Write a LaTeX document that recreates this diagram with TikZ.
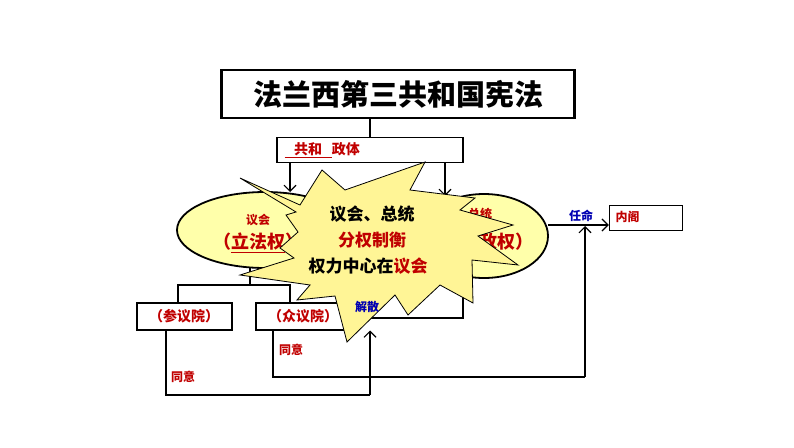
\documentclass[tikz,border=0pt]{standalone}
\usepackage{fontspec}
\setmainfont{Noto Sans CJK SC}
\usetikzlibrary{arrows.meta}
\definecolor{darkred}{RGB}{192,0,0}
\definecolor{lightyellow}{RGB}{255,255,170}
\definecolor{starfill}{RGB}{255,245,150}
\tikzset{
  box/.style={draw, line width=2pt, inner sep=0pt},
  redtext/.style={text=darkred, font=\bfseries},
  bluetext/.style={text=blue!70!black, font=\bfseries\fontsize{12}{14}\selectfont},
  conn/.style={draw, line width=1.1pt},
  arr/.style={conn, -{Straight Barb[length=6pt]}}
}
\begin{document}
\begin{tikzpicture}[x=1pt,y=-1pt]
            \useasboundingbox (0,0) rectangle (794,447);
            % boxes
            \node[box, line width=2.5pt, minimum width=353, minimum height=48, font=\bfseries\fontsize{29}{32}\selectfont] (title) at (398,94) {法兰西第三共和国宪法};
            \node[box, minimum width=186, minimum height=25, line width=1.5pt] (regime) at (370,150) {};
            \node[redtext, anchor=west, font=\bfseries\fontsize{14}{16}\selectfont] (regimetxt) at (281,150) {\underline{\ \ \ 共和\ \ \ }政体};
            \coordinate (T) at (370,118);
            \coordinate (R) at (370,138);
            \draw[conn] (T) -- (R);

            % ellipses
            \draw[line width=1.8pt, fill=lightyellow] (265,230) ellipse [x radius=88, y radius=38];
            \draw[line width=1.8pt, fill=lightyellow] (484,236) ellipse [x radius=64, y radius=42];
            \node[redtext, font=\bfseries\fontsize{12}{14}\selectfont] (parl) at (258,220) {议会};
            \node[redtext, font=\bfseries\fontsize{18}{20}\selectfont] (legis) at (258,243) {（\underline{立法权}）};
            \node[redtext, font=\bfseries\fontsize{12}{14}\selectfont] (pres) at (480,214) {总统};
            \node[redtext, font=\bfseries\fontsize{18}{20}\selectfont] (exec) at (488,243) {（\underline{行政}权）};
            \coordinate (a1) at (290,163);
            \coordinate (a2) at (290,192);
            \coordinate (b1) at (445,163);
            \coordinate (b2) at (445,196);
            \draw[arr] (a1) -- (a2);
            \draw[arr] (b1) -- (b2);

            % chambers
            \node[box, minimum width=95, minimum height=27, redtext, font=\bfseries\fontsize{14}{16}\selectfont] (senate) at (184,316) {（参议院）};
            \node[box, minimum width=95, minimum height=27, redtext, font=\bfseries\fontsize{14}{16}\selectfont] (deputies) at (303,316) {（众议院）};
            \coordinate (s1) at (250,268);
            \coordinate (s2) at (250,285);
            \coordinate (s3) at (178,285);
            \coordinate (s4) at (290,285);
            \draw[conn] (s1) -- (s2);
            \draw[conn] (s3 |- senate.north) -- (s3) -- (s4) -- (s4 |- deputies.north);

            % dissolve
            \coordinate (d1) at (463,278);
            \coordinate (d2) at (463,318);
            \draw[conn] (d1) -- (d2) -- (deputies.east |- d2);

            % cabinet
            \node[box, minimum width=73, minimum height=25, line width=1.5pt] (cabinet) at (646,218) {};
            \node[redtext, anchor=west, font=\bfseries\fontsize{12}{14}\selectfont] (cabtxt) at (612,217) {内阁};
            \coordinate (c1) at (548,225);
            \draw[arr] (c1) -- (cabinet.west |- c1);
            \node[bluetext] (appoint) at (581,216) {任命};

            % consent lines
            \coordinate (e1) at (166,395);
            \coordinate (e2) at (370,395);
            \draw[conn] (senate.south -| e1) -- (e1) -- (e2);
            \draw[arr] (e2) -- (e2 |- senate.south);
            \coordinate (f1) at (273,377);
            \coordinate (f2) at (585,377);
            \coordinate (f3) at (585,226);
            \draw[conn] (deputies.south -| f1) -- (f1) -- (f2);
            \draw[arr] (f2) -- (f3);
            \node[redtext, font=\bfseries\fontsize{12}{14}\selectfont] (agree1) at (183,377) {同意};
            \node[redtext, font=\bfseries\fontsize{12}{14}\selectfont] (agree2) at (291,350) {同意};

            % star
            \draw[line width=0.8pt, fill=starfill]
              (240,178) -- (300,205) -- (322,170) -- (345,190) -- (425,162) -- (410,190)
              -- (475,198) -- (460,210) -- (513,225) -- (478,236) -- (518,265) -- (472,260)
              -- (473,303) -- (440,285) -- (408,315) -- (395,295) -- (347,342) -- (335,296)
              -- (297,300) -- (310,285) -- (240,275) -- (294,258) -- (280,248) -- (298,232)
              -- (286,215) -- (296,212) -- cycle;
            \node[bluetext] (dissolve) at (367,307) {解散};
            \node[font=\bfseries\fontsize{17}{19}\selectfont] (star1) at (372,214) {议会、总统};
            \node[redtext, font=\bfseries\fontsize{17}{19}\selectfont] (star2) at (372,240) {分权制衡};
            \node[font=\bfseries\fontsize{17}{19}\selectfont] (star3) at (368,266) {权力中心在\textcolor{darkred}{议会}};
\end{tikzpicture}
\end{document}
